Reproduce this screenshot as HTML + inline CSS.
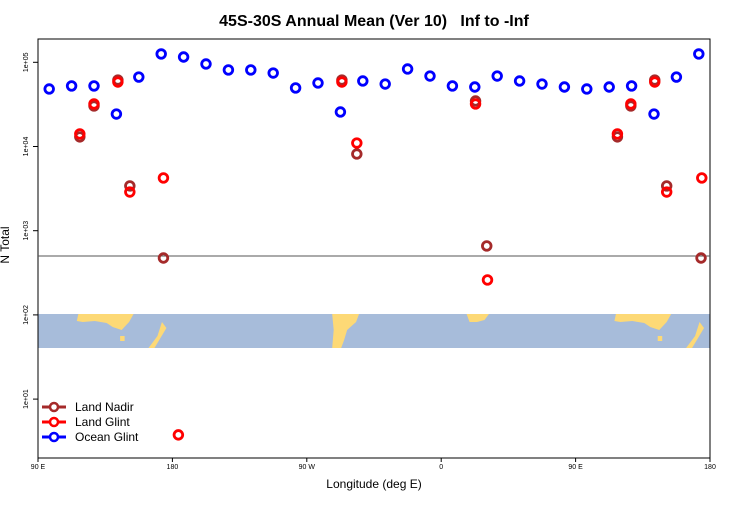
<!DOCTYPE html>
<html><head><meta charset="utf-8"><style>
body{margin:0;background:#fff;font-family:"Liberation Sans",sans-serif}
svg text{font-family:"Liberation Sans",sans-serif}
</style></head><body>
<svg id="c" width="750" height="500" xmlns="http://www.w3.org/2000/svg">
<text x="374" y="26" text-anchor="middle" font-size="16" font-weight="bold">45S-30S Annual Mean (Ver 10)&#160;&#160;&#160;Inf to -Inf</text>
<g id="map"></g>
<g id="axes"></g>
<g id="marks"></g>
<text x="374" y="488" text-anchor="middle" font-size="12">Longitude (deg E)</text>
<text transform="translate(9,245) rotate(-90)" text-anchor="middle" font-size="12">N Total</text>
<g>
<line x1="42" y1="407" x2="66" y2="407" stroke="#a52a2a" stroke-width="3"/><circle cx="54" cy="407" r="4" fill="#fff" stroke="#a52a2a" stroke-width="2.5"/>
<text x="75" y="411" font-size="12">Land Nadir</text>
<line x1="42" y1="422" x2="66" y2="422" stroke="#f00" stroke-width="3"/><circle cx="54" cy="422" r="4" fill="#fff" stroke="#f00" stroke-width="2.5"/>
<text x="75" y="426" font-size="12">Land Glint</text>
<line x1="42" y1="437" x2="66" y2="437" stroke="#00f" stroke-width="3"/><circle cx="54" cy="437" r="4" fill="#fff" stroke="#00f" stroke-width="2.5"/>
<text x="75" y="441" font-size="12">Ocean Glint</text>
</g>
</svg>
<script>
const oceanLon=[97.5,112.5,127.5,142.5,157.5,172.5,187.5,202.5,217.5,232.5,247.5,262.5,277.5,292.5,307.5,322.5,337.5,352.5,367.5,382.5,397.5,412.5,427.5,442.5,457.5,472.5,487.5,502.5,517.5,532.5];
const oceanVal=[48200,52400,52400,24300,66800,125600,115600,95500,81100,81100,74600,49600,56800,25700,60000,55200,83300,68700,52400,50900,68700,60000,55200,50900,48200,50900,52400,24300,66800,125600];
const glintLon=[118,127.5,143.5,151.5,174,184,293.5,303.5,383,391,478,487,503,511,534.5];
const glintVal=[14100,32000,58300,2880,4230,3.76,58300,11000,32000,260,14100,32000,58300,2880,4230];
const nadirLon=[118,127.5,143.5,151.5,174,293.5,303.5,383,390.5,478,487,503,511,534];
const nadirVal=[13000,30300,61600,3400,474,61600,8150,34700,659,13000,30300,61600,3400,474];
const yTicks=[10,100,1000,10000,100000];
const yTickLabels=["1e+01","1e+02","1e+03","1e+04","1e+05"];
const xTicks=[90,180,270,360,450,540];
const xTickLabels=["90 E","180","90 W","0","90 E","180"];
const refVal=500;
const NS="http://www.w3.org/2000/svg";
const X0=38,X1=710,Y0=39,Y1=458;
const xs=l=>X0+(l-90)*(X1-X0)/450;
const ys=v=>62.3-(Math.log10(v)-5)*84.2;
function mk(t,a,p){const e=document.createElementNS(NS,t);for(const k in a)e.setAttribute(k,a[k]);p.appendChild(e);return e;}
const map=document.getElementById('map');
mk('rect',{x:X0,y:314,width:X1-X0,height:34,fill:'#a7bcda'},map);
function landPoly(pts){const p=mk('polygon',{points:pts.map(q=>xs(q[0])+','+q[1]).join(' '),fill:'#fdd976'},map);}
for(const off of [0,360]){
landPoly([[117+off,314],[154+off,314],[151+off,322],[146+off,330],[140+off,327],[136+off,323],[128+off,321],[120+off,322],[116+off,321]]);
landPoly([[145+off,336],[148+off,336],[148+off,341],[145+off,341]]);
landPoly([[173+off,322],[176+off,328],[172+off,338],[168+off,348],[164+off,348],[170+off,336]]);
}
landPoly([[287,314],[305,314],[303,322],[297,330],[295,340],[293,348],[287,348],[288,330]]);
landPoly([[377,314],[392,314],[389,320],[384,322],[379,322]]);
const ax=document.getElementById('axes');
mk('rect',{x:X0,y:Y0,width:X1-X0,height:Y1-Y0,fill:'none',stroke:'#000','stroke-width':1},ax);
const rl=mk('line',{x1:X0,x2:X1,y1:ys(refVal),y2:ys(refVal),stroke:'#555','stroke-width':1},ax);


yTicks.forEach((v,i)=>{const y=ys(v);mk('line',{x1:X0-5,x2:X0,y1:y,y2:y,stroke:'#000'},ax);
const t=mk('text',{transform:`translate(${X0-10},${y}) rotate(-90)`,'text-anchor':'middle','font-size':7},ax);t.textContent=yTickLabels[i];

});
xTicks.forEach((l,i)=>{const x=xs(l);mk('line',{x1:x,x2:x,y1:Y1,y2:Y1+4,stroke:'#000'},ax);
const t=mk('text',{x:x,y:Y1+11,'text-anchor':'middle','font-size':7},ax);t.textContent=xTickLabels[i];

});
const mg=document.getElementById('marks');
function series(lons,vals,col,name){lons.forEach((l,i)=>{const c=mk('circle',{cx:xs(l),cy:ys(vals[i]),r:4.3,fill:'none',stroke:col,'stroke-width':2.8},mg);

});}
series(nadirLon,nadirVal,'#a52a2a','land-nadir-point');
series(glintLon,glintVal,'#ff0000','land-glint-point');
series(oceanLon,oceanVal,'#0000ff','ocean-glint-point');
</script>
</body></html>
